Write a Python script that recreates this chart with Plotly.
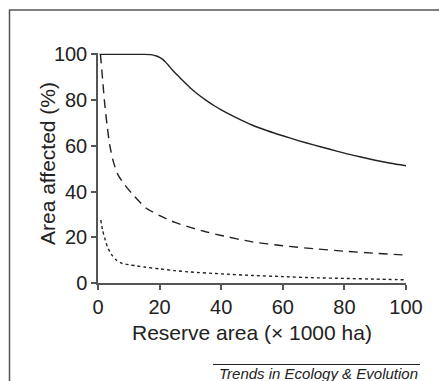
import plotly.graph_objects as go

# ---- data ----
solid_x = [0.5, 5, 10, 15, 17, 18, 19, 20, 21, 22, 23, 24, 26, 28, 30, 32, 35, 38, 40,
           45, 50, 55, 60, 65, 70, 75, 80, 85, 90, 95, 100]
solid_y = [100, 100, 100, 100, 99.9, 99.7, 99.3, 98.7, 97.8, 96.5, 95, 93.4, 90.6, 87.9,
           85.3, 83.0, 80.0, 77.3, 75.7, 72.2, 69.1, 66.6, 64.4, 62.3, 60.4, 58.6, 56.8,
           55.2, 53.7, 52.4, 51.3]

dashed_x = [0.8, 1.5, 2.2, 3, 3.8, 5, 6.5, 8.7, 11.9, 15.7, 20.6, 25, 30, 35, 40,
            50, 60, 70, 80, 90, 100]
dashed_y = [100, 89, 78, 68.5, 60.4, 53, 47.3, 42.9, 37.8, 32.7, 29.1, 26.5, 24.3,
            22.4, 20.8, 18, 16.3, 15, 13.9, 13, 12.2]

dotted_x = [0.9, 1.5, 2.2, 3, 4.4, 6, 7.6, 10, 12, 15, 20, 25, 30, 40, 50, 60, 70,
            80, 90, 100]
dotted_y = [27.6, 23, 19.6, 16, 12.4, 10, 8.7, 8, 7.6, 7, 6.2, 5.4, 4.8, 4, 3.3,
            2.8, 2.3, 2, 1.7, 1.4]

tick_vals = [0, 20, 40, 60, 80, 100]
tick_text = ["0", "20", "40", "60", "80", "100"]

x_title = "Reserve area (× 1000 ha)"
y_title = "Area affected (%)"
footer = "Trends in Ecology &amp; Evolution"

# ---- layout geometry (page body has an 8px margin) ----
OFF = 8
W, H = 447 - OFF, 381 - OFF
L, R, T, B = 90, 41, 45, 98
PW, PH = W - L - R, H - T - B

def px(x):  # screen pixel -> paper x
    return (x - OFF - L) / PW

def py(y):  # screen pixel -> paper y
    return (H - B - (y - OFF)) / PH

FONT = "Liberation Sans, Arial, sans-serif"
INK = "#222222"
AX = "#555555"

fig = go.Figure()
fig.add_trace(go.Scatter(x=solid_x, y=solid_y, mode="lines",
                         line=dict(color=INK, width=1.4, shape="spline", smoothing=0.6)))
fig.add_trace(go.Scatter(x=dashed_x, y=dashed_y, mode="lines",
                         line=dict(color=INK, width=1.4, dash="9px,6px", shape="spline", smoothing=0.6)))
fig.add_trace(go.Scatter(x=dotted_x, y=dotted_y, mode="lines",
                         line=dict(color=INK, width=1.4, dash="3px,3px", shape="spline", smoothing=0.6)))

axis_common = dict(showline=True, linecolor=AX, linewidth=1.5, ticks="outside",
                   ticklen=5, tickwidth=1.5, tickcolor=AX, showgrid=False,
                   zeroline=False, tickvals=tick_vals, ticktext=tick_text,
                   tickfont=dict(family=FONT, size=20, color=INK))

fig.update_xaxes(range=[0, 100], **axis_common)
fig.update_yaxes(range=[0, 100.6], **axis_common)

fig.add_annotation(text=x_title, xref="paper", yref="paper", x=px(252), y=py(332),
                   xanchor="center", yanchor="middle", showarrow=False,
                   font=dict(family=FONT, size=21, color=INK))
fig.add_annotation(text=y_title, xref="paper", yref="paper", x=px(47), y=py(164),
                   xanchor="center", yanchor="middle", showarrow=False, textangle=-90,
                   font=dict(family=FONT, size=21, color=INK))
fig.add_annotation(text="<i>" + footer + "</i>", xref="paper", yref="paper",
                   x=px(420), y=py(373), xanchor="right", yanchor="middle",
                   showarrow=False, font=dict(family=FONT, size=15, color=INK))

fig.add_shape(type="line", xref="paper", yref="paper", x0=px(213), x1=px(420),
              y0=py(364.5), y1=py(364.5), line=dict(color=INK, width=1))
fig.add_shape(type="rect", xref="paper", yref="paper", x0=px(9.5), x1=px(446),
              y0=py(400), y1=py(10), line=dict(color=AX, width=1.5),
              fillcolor="rgba(0,0,0,0)", layer="below")

fig.update_layout(width=W, height=H, margin=dict(l=L, r=R, t=T, b=B, autoexpand=False),
                  paper_bgcolor="white", plot_bgcolor="white", showlegend=False)

fig.write_html("out.html", config={"displayModeBar": False})
